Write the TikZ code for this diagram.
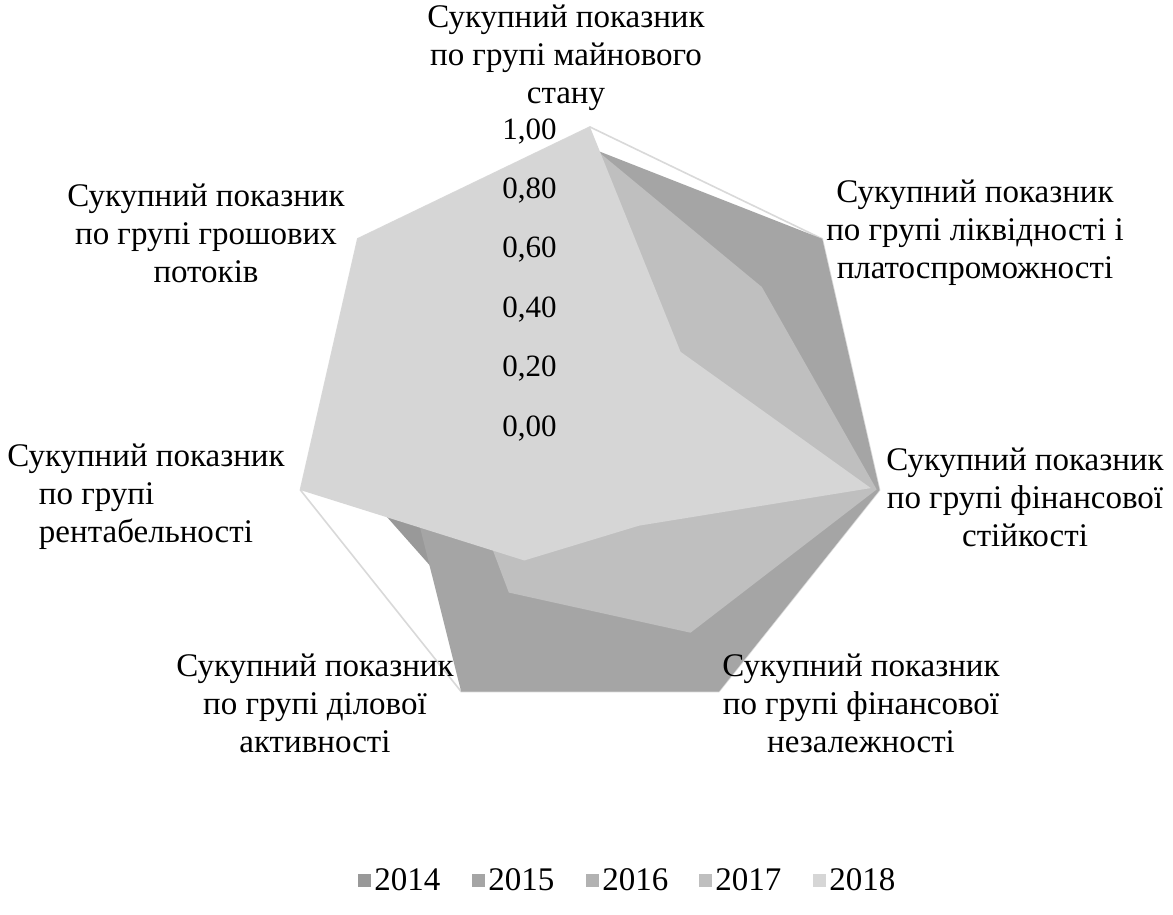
\documentclass[tikz,border=0pt]{standalone}
\usepackage{fontspec}
\setmainfont{Liberation Serif}
\newfontfamily\chartfont{Liberation Serif}
\usetikzlibrary{positioning}
\definecolor{c14}{HTML}{999999}
\definecolor{c15}{HTML}{A5A5A5}
\definecolor{c16}{HTML}{B2B2B2}
\definecolor{c17}{HTML}{BFBFBF}
\definecolor{c18}{HTML}{D6D6D6}
\definecolor{gridgray}{HTML}{D9D9D9}
\begin{document}
\begin{tikzpicture}[x=0.5pt,y=-0.5pt,
    cat/.style={align=center,inner sep=0pt,font=\chartfont\fontsize{16.5}{19}\selectfont},
    val/.style={anchor=east,inner sep=0pt,font=\chartfont\fontsize{15.5}{18}\selectfont},
    legbox/.style={minimum size=6.5pt,inner sep=0pt},
    legtext/.style={inner sep=0pt,font=\chartfont\fontsize{16.5}{19}\selectfont}]
  \fill[white] (0,0) rectangle (1173,915);
  \useasboundingbox (0,0) rectangle (1173,915);
  % radar, centre of the chart
  \begin{scope}[shift={(590,424)}]
    \draw[gridgray,line width=0.8pt] (-90:297) \foreach \k in {1,...,6} {-- ({-90+\k*360/7}:297)} -- cycle;
    % 2014
    \fill[c14] (-90:{297*0.3}) \foreach \v [count=\k] in {0.3,0.3,0.3,0.78,0.82,0.5} {-- ({-90+\k*360/7}:{297*\v})} -- cycle;
    % 2015
    \fill[c15] (-90:{297*0.93}) \foreach \v [count=\k] in {1,1,1,1,0.64,0.6} {-- ({-90+\k*360/7}:{297*\v})} -- cycle;
    % 2017
    \fill[c17] (-90:{297*0.94}) \foreach \v [count=\k] in {0.74,0.99,0.78,0.63,0.46,0.5} {-- ({-90+\k*360/7}:{297*\v})} -- cycle;
    % 2018
    \fill[c18] (-90:297) \foreach \v [count=\k] in {0.39,0.97,0.38,0.51,1,1} {-- ({-90+\k*360/7}:{297*\v})} -- cycle;
  \end{scope}
  % scale
  \node[val] (v100) at (557,132) {1,00};
  \node[val] (v080) at (557,191) {0,80};
  \node[val] (v060) at (557,250) {0,60};
  \node[val] (v040) at (557,310) {0,40};
  \node[val] (v020) at (557,369) {0,20};
  \node[val] (v000) at (557,429) {0,00};
  % axis names
  \node[cat] (mainovy) at (566,58) {Сукупний показник\\по групі майнового\\стану};
  \node[cat] (likvid) at (975,233) {Сукупний показник\\по групі ліквідності і\\платоспроможності};
  \node[cat] (stiyk) at (1025,497) {Сукупний показник\\по групі фінансової\\стійкості};
  \node[cat] (nezal) at (861,703) {Сукупний показник\\по групі фінансової\\незалежності};
  \node[cat] (dilova) at (315,703) {Сукупний показник\\по групі ділової\\активності};
  \node[cat] (rentab) at (146,497) {Сукупний показник\\\rlap{по групі}\phantom{рентабельності}\\рентабельності};
  \node[cat] (groshi) at (206,233) {Сукупний показник\\по групі грошових\\потоків};
  % legend
  \node[legbox,fill=c14] (sq14) at (364,880) {};
  \node[legtext,right=1.5pt of sq14] (leg14) {2014};
  \node[legbox,fill=c15] (sq15) at (478,880) {};
  \node[legtext,right=1.5pt of sq15] (leg15) {2015};
  \node[legbox,fill=c16] (sq16) at (592,880) {};
  \node[legtext,right=1.5pt of sq16] (leg16) {2016};
  \node[legbox,fill=c17] (sq17) at (705,880) {};
  \node[legtext,right=1.5pt of sq17] (leg17) {2017};
  \node[legbox,fill=c18] (sq18) at (819,880) {};
  \node[legtext,right=1.5pt of sq18] (leg18) {2018};
\end{tikzpicture}
\end{document}
